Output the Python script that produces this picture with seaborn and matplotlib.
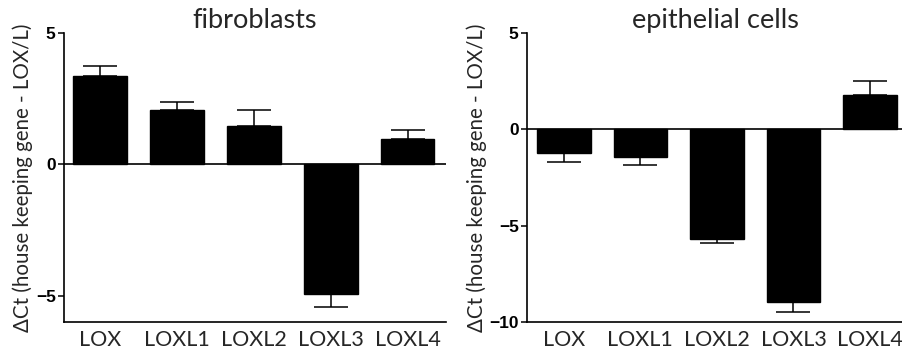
import matplotlib
matplotlib.use("Agg")
import matplotlib.pyplot as plt
import seaborn as sns
import numpy as np

categories = ["LOX", "LOXL1", "LOXL2", "LOXL3", "LOXL4"]
fibro_values = [3.37, 2.08, 1.45, -4.95, 0.97]
fibro_sem = [0.38, 0.29, 0.62, 0.48, 0.34]
epi_values = [-1.22, -1.43, -5.69, -8.97, 1.76]
epi_sem = [0.49, 0.41, 0.22, 0.53, 0.74]
titles = ["fibroblasts", "epithelial cells"]
ylabel = "\u0394Ct (house keeping gene - LOX/L)"

sns.set_theme(style="ticks")
plt.rcParams["font.family"] = ["Lato", "DejaVu Sans"]

fig = plt.figure(figsize=(9.03, 3.54), dpi=100)
ax1 = fig.add_axes([64/903, 1-322/354, (446-64)/903, (322-33)/354])
ax2 = fig.add_axes([527/903, 1-322/354, (903-527)/903, (322-33)/354])

panels = [
    (ax1, fibro_values, fibro_sem, titles[0], (-6, 5), [-5, 0, 5], (-0.47, 4.5), -0.08),
    (ax2, epi_values, epi_sem, titles[1], (-10, 5), [-10, -5, 0, 5], (-0.48, 4.43), -0.106),
]

for ax, vals, sem, title, ylim, yticks, xlim, labx in panels:
    sns.barplot(x=categories, y=vals, color="black", saturation=1, width=0.7,
                edgecolor="black", linewidth=1, errorbar=None, ax=ax)
    vals_a = np.array(vals)
    sem_a = np.array(sem)
    lower = np.where(vals_a < 0, sem_a, 0)
    upper = np.where(vals_a >= 0, sem_a, 0)
    ax.errorbar(np.arange(len(categories)), vals_a, yerr=[lower, upper], fmt="none",
                ecolor="black", elinewidth=1.1, capsize=12.5, capthick=1.1)
    ax.axhline(0, color="black", lw=1.2)
    ax.set_ylim(*ylim)
    ax.set_xlim(*xlim)
    ax.set_yticks(yticks)
    ax.tick_params(axis="y", length=4, width=1.1, pad=2, colors="black", labelsize=12.5)
    ax.tick_params(axis="x", length=0, pad=6, labelsize=15.5)
    for lbl in ax.get_yticklabels():
        lbl.set_fontfamily("Liberation Sans")
        lbl.set_fontweight("bold")
        lbl.set_fontsize(12.5)
    for lbl in ax.get_xticklabels():
        lbl.set_fontfamily("Lato")
    for s in ["top", "right"]:
        ax.spines[s].set_visible(False)
    for s in ["left", "bottom"]:
        ax.spines[s].set_linewidth(1.2)
        ax.spines[s].set_color("black")
    ax.set_title(title, fontsize=19.5, pad=1)
    ax.set_ylabel(ylabel, fontsize=14.8)
    ax.yaxis.set_label_coords(labx, 0.5)
    ax.set_xlabel("")

fig.savefig("out.png", dpi=100)
